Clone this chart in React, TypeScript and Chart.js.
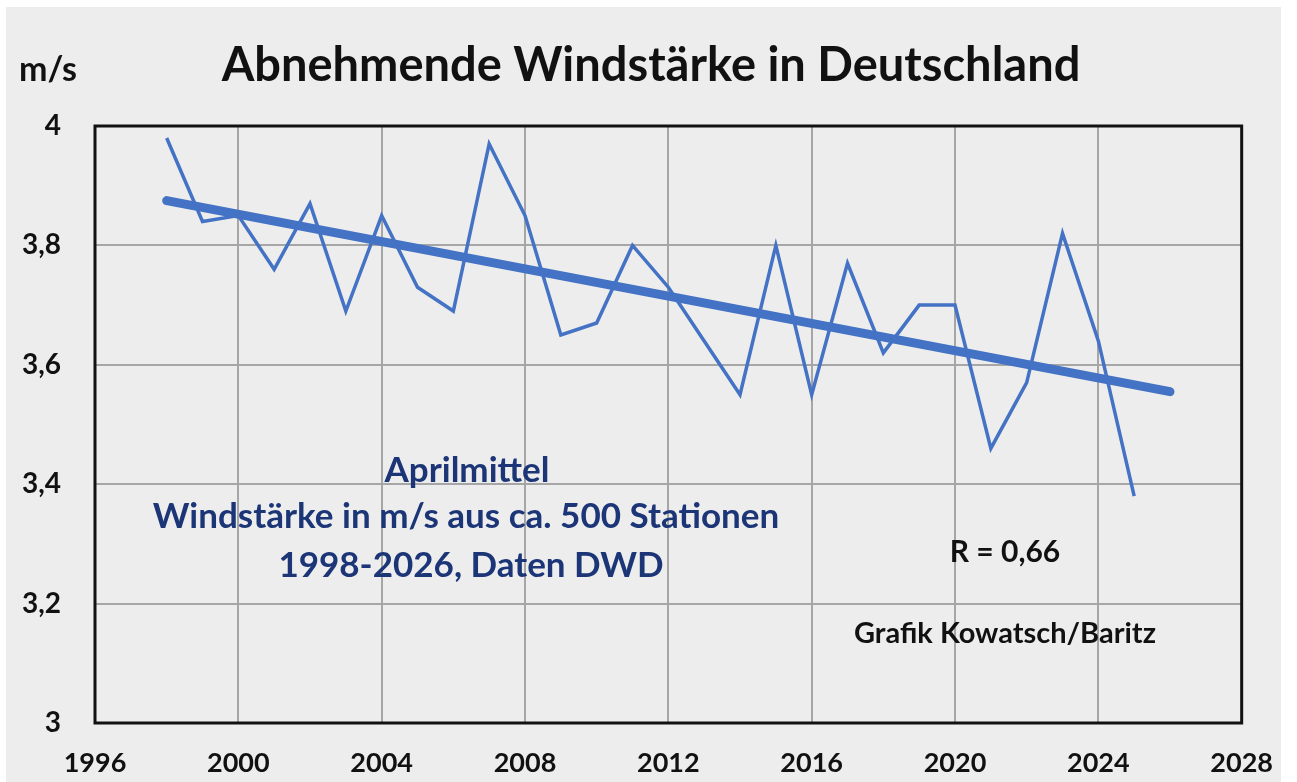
import React, { useEffect, useRef } from "react";
import { Chart, registerables } from "chart.js";

Chart.register(...registerables);

const years = [1998, 1999, 2000, 2001, 2002, 2003, 2004, 2005, 2006, 2007, 2008, 2009, 2010, 2011, 2012, 2013, 2014, 2015, 2016, 2017, 2018, 2019, 2020, 2021, 2022, 2023, 2024, 2025];
const windSpeed = [3.98, 3.84, 3.85, 3.76, 3.87, 3.69, 3.85, 3.73, 3.69, 3.97, 3.85, 3.65, 3.67, 3.80, 3.73, 3.64, 3.55, 3.80, 3.55, 3.77, 3.62, 3.70, 3.70, 3.46, 3.57, 3.82, 3.64, 3.38];
const trendYears = [1998, 2026];
const trendValues = [3.875, 3.555];

const xTicks = [1996, 2000, 2004, 2008, 2012, 2016, 2020, 2024, 2028];
const yTicks = [3, 3.2, 3.4, 3.6, 3.8, 4];

const titleText = "Abnehmende Windstärke in Deutschland";
const unitText = "m/s";
const noteLines = ["Aprilmittel", "Windstärke in m/s aus ca. 500 Stationen", "1998-2026, Daten DWD"];
const rText = "R = 0,66";
const creditText = "Grafik Kowatsch/Baritz";

const FONT = "Lato, 'Open Sans', sans-serif";
const BLUE = "#4472C4";
const BG = "#EDEDED";

export default function App() {
  const ref = useRef<HTMLCanvasElement | null>(null);

  useEffect(() => {
    const canvas = ref.current;
    if (!canvas) return;

    const decor = {
      id: "decor",
      beforeDraw(chart: any) {
        const ctx = chart.ctx;
        ctx.save();
        ctx.fillStyle = "#ffffff";
        ctx.fillRect(0, 0, chart.width, chart.height);
        ctx.fillStyle = BG;
        ctx.fillRect(6, 7, 1275, 775);
        ctx.restore();
      },
      afterDraw(chart: any) {
        const ctx = chart.ctx;
        const a = chart.chartArea;
        ctx.save();
        ctx.strokeStyle = "#111111";
        ctx.lineWidth = 3;
        ctx.strokeRect(a.left, a.top, a.right - a.left, a.bottom - a.top);

        ctx.fillStyle = "#111111";
        ctx.textAlign = "center";
        ctx.textBaseline = "alphabetic";
        ctx.font = `700 47px ${FONT}`;
        ctx.fillText(titleText, 651, 81);

        ctx.font = `700 34px ${FONT}`;
        ctx.fillText(unitText, 48, 81);

        ctx.fillStyle = "#1B3577";
        ctx.font = `700 35px ${FONT}`;
        ctx.fillText(noteLines[0], 467, 482);
        ctx.fillText(noteLines[1], 466, 528);
        ctx.fillText(noteLines[2], 471, 577);

        ctx.fillStyle = "#111111";
        ctx.font = `700 30px ${FONT}`;
        ctx.fillText(rText, 1005, 562);
        ctx.font = `700 29px ${FONT}`;
        ctx.fillText(creditText, 1005, 643);
        ctx.restore();
      },
    };

    const chart = new Chart(canvas, {
      type: "line",
      data: {
        datasets: [
          {
            label: "Windstärke",
            data: years.map((y, i) => ({ x: y, y: windSpeed[i] })),
            borderColor: BLUE,
            borderWidth: 3.5,
            pointRadius: 0,
            tension: 0,
            fill: false,
          },
          {
            label: "Trend",
            data: trendYears.map((y, i) => ({ x: y, y: trendValues[i] })),
            borderColor: BLUE,
            borderWidth: 9,
            borderCapStyle: "round",
            pointRadius: 0,
            tension: 0,
            fill: false,
          },
        ],
      },
      options: {
        responsive: false,
        animation: false,
        devicePixelRatio: 1,
        layout: { padding: { left: 0, right: 47, top: 126, bottom: 0 } },
        plugins: {
          legend: { display: false },
          title: { display: false },
          tooltip: { enabled: false },
        },
        scales: {
          x: {
            type: "linear",
            min: xTicks[0],
            max: xTicks[xTicks.length - 1],
            afterFit: (s: any) => { s.height = 59; },
            afterBuildTicks: (s: any) => { s.ticks = xTicks.map((v) => ({ value: v })); },
            ticks: {
              padding: 24,
              color: "#111111",
              font: { family: FONT, size: 27, weight: "bold" },
              callback: (v: any) => String(v),
              maxRotation: 0,
            },
            grid: { color: "#A6A6A6", lineWidth: 2, drawTicks: false },
            border: { display: false },
          },
          y: {
            type: "linear",
            min: yTicks[0],
            max: yTicks[yTicks.length - 1],
            afterFit: (s: any) => { s.width = 95; },
            afterBuildTicks: (s: any) => { s.ticks = yTicks.map((v) => ({ value: v })); },
            ticks: {
              padding: 34,
              color: "#111111",
              font: { family: FONT, size: 28, weight: "bold" },
              callback: (v: any) => String(Math.round(Number(v) * 10) / 10).replace(".", ","),
            },
            grid: { color: "#A6A6A6", lineWidth: 2, drawTicks: false },
            border: { display: false },
          },
        },
      },
      plugins: [decor],
    } as any);

    return () => chart.destroy();
  }, []);

  return (
    <div style={{ position: "fixed", left: 0, top: 0, width: 1297, height: 782, background: "#fff" }}>
      <canvas ref={ref} width={1297} height={782} style={{ display: "block", width: 1297, height: 782 }} />
    </div>
  );
}
